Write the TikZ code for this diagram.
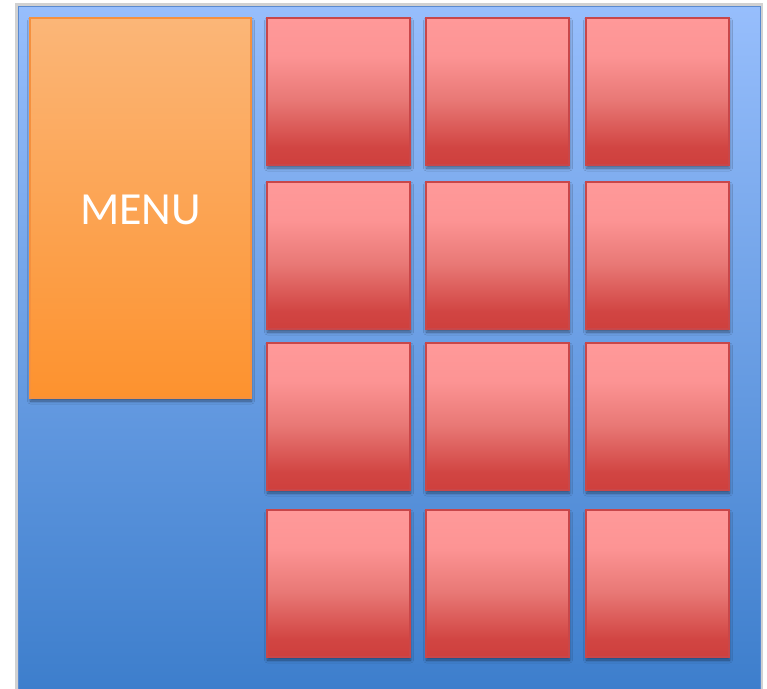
\documentclass[tikz,border=0pt]{standalone}
\usepackage{fontspec}
\setsansfont{Carlito}
\usetikzlibrary{shadows,shadows.blur}
\definecolor{bgtop}{HTML}{97BEFC}
\definecolor{bgbot}{HTML}{3D7ECC}
\definecolor{bgline}{HTML}{5A8AD0}
\definecolor{menutop}{HTML}{FBB678}
\definecolor{menubot}{HTML}{FD922E}
\definecolor{menuline}{HTML}{F5913F}
\definecolor{tileline}{HTML}{C8474A}
\pgfdeclareverticalshading{tileshade}{100bp}{%
  rgb(0bp)=(0.81,0.25,0.24);
  rgb(25bp)=(0.81,0.25,0.24);
  rgb(31bp)=(0.82,0.27,0.26);
  rgb(47bp)=(0.91,0.47,0.46);
  rgb(62bp)=(0.99,0.58,0.58);
  rgb(75bp)=(1,0.60,0.60);
  rgb(100bp)=(1,0.60,0.60)}
\tikzset{
  panel/.style={draw=bgline, line width=1pt, top color=bgtop, bottom color=bgbot,
    general shadow={shadow scale=1.008, fill=black, opacity=0.18}},
  softshadow/.style={blur shadow={shadow xshift=0.5pt, shadow yshift=-3pt, shadow blur steps=6, shadow blur extra rounding=0pt, shadow opacity=45, shadow blur radius=3pt}},
  menubox/.style={draw=menuline, line width=1.2pt, top color=menutop, bottom color=menubot,
    minimum width=221pt, minimum height=380pt, inner sep=0pt, outer sep=0pt, anchor=north west,
    text=white, font=\sffamily\fontsize{46}{50}\selectfont, softshadow},
  tile/.style={draw=tileline, line width=1.2pt, shading=tileshade,
    minimum width=143pt, minimum height=147pt, inner sep=0pt, outer sep=0pt, anchor=north west,
    softshadow}
}
\begin{document}
\begin{tikzpicture}[x=1pt, y=-1pt]
  \useasboundingbox (0,0) rectangle (767,688);
  \begin{scope}
    \clip (0,0) rectangle (767,688);
    \node[panel, minimum width=742pt, minimum height=684pt, inner sep=0pt, outer sep=0pt, anchor=north west] (bg) at (18,6) {};
  \end{scope}
  \node[menubox] (menu) at (30,18) {\raisebox{-2pt}[\height][\depth]{MENU}};
  \foreach \r/\y in {1/18, 2/182, 3/343, 4/510} {
    \foreach \c/\x in {1/267, 2/426, 3/586} {
      \node[tile] (t\r\c) at (\x,\y) {};
    }
  }
\end{tikzpicture}
\end{document}
